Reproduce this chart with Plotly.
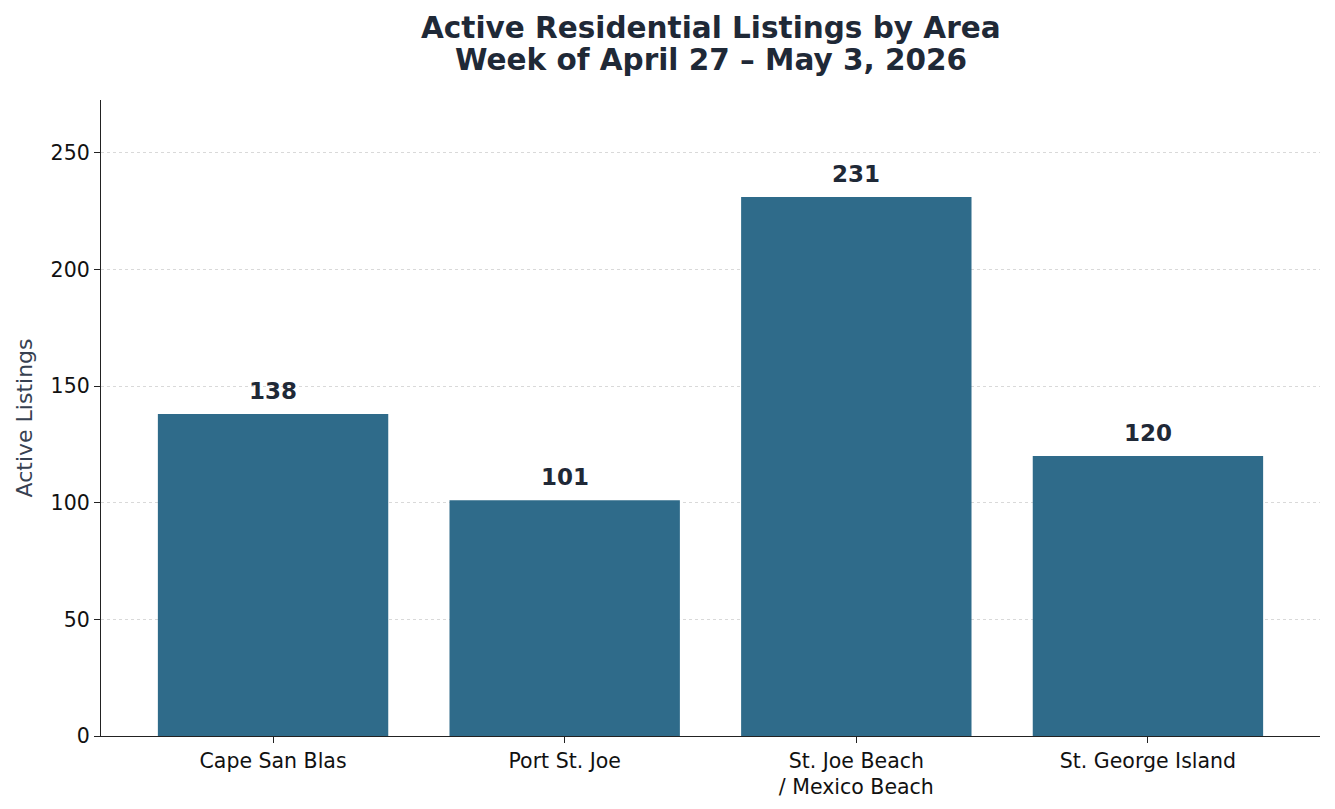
import plotly.graph_objects as go

# Active listings by area, week of April 27 - May 3, 2026
areas = ["Cape San Blas", "Port St. Joe", "St. Joe Beach<br>/ Mexico Beach", "St. George Island"]
listings = [138, 101, 231, 120]
y_ticks = [0, 50, 100, 150, 200, 250]
title_lines = ["Active Residential Listings by Area", "Week of April 27 – May 3, 2026"]

bar_color = "#2f6b8a"
text_color = "#1f2937"
axis_color = "#222222"
font_name = "DejaVu Sans"

fig = go.Figure()
fig.add_trace(go.Bar(
    x=list(range(len(areas))),
    y=listings,
    width=0.79,
    marker=dict(color=bar_color, line=dict(width=0)),
    hoverinfo="skip",
))

# value labels above bars
for i, v in enumerate(listings):
    fig.add_annotation(
        x=i, y=v, text=f"<b>{v}</b>", showarrow=False,
        yanchor="bottom", yshift=8,
        font=dict(family=font_name, size=23, color=text_color),
    )

# two-line title, placed line by line
for line, ypos in zip(title_lines, [1.113, 1.063]):
    fig.add_annotation(
        x=0.5, y=ypos, xref="paper", yref="paper",
        text=f"<b>{line}</b>", showarrow=False,
        xanchor="center", yanchor="middle",
        font=dict(family=font_name, size=29.5, color=text_color),
    )

# page body adds ~8px offset, margins compensate for it
fig.update_layout(
    width=1335, height=809,
    margin=dict(l=93, r=23, t=92, b=81),
    paper_bgcolor="white", plot_bgcolor="white",
    font=dict(family=font_name, size=20, color="#111111"),
    showlegend=False,
)

fig.update_xaxes(
    range=[-0.59, 3.59],
    tickmode="array", tickvals=list(range(len(areas))), ticktext=areas,
    showgrid=False, zeroline=False,
    showline=True, linecolor=axis_color, linewidth=1.3,
    ticks="outside", ticklen=6, tickcolor=axis_color, tickwidth=1.3,
    tickfont=dict(family=font_name, size=20.5, color="#111111"),
)
fig.update_yaxes(
    range=[0, 272.6],
    tickmode="array", tickvals=y_ticks,
    showgrid=True, gridcolor="#d9d9d9", griddash="dot", gridwidth=1,
    zeroline=False,
    showline=True, linecolor=axis_color, linewidth=1.3,
    ticks="outside", ticklen=6, tickcolor=axis_color, tickwidth=1.3,
    tickfont=dict(family=font_name, size=20.5, color="#111111"),
    title=dict(text="Active Listings", font=dict(family=font_name, size=22, color="#374151"), standoff=11),
)

fig.write_html("out.html")
